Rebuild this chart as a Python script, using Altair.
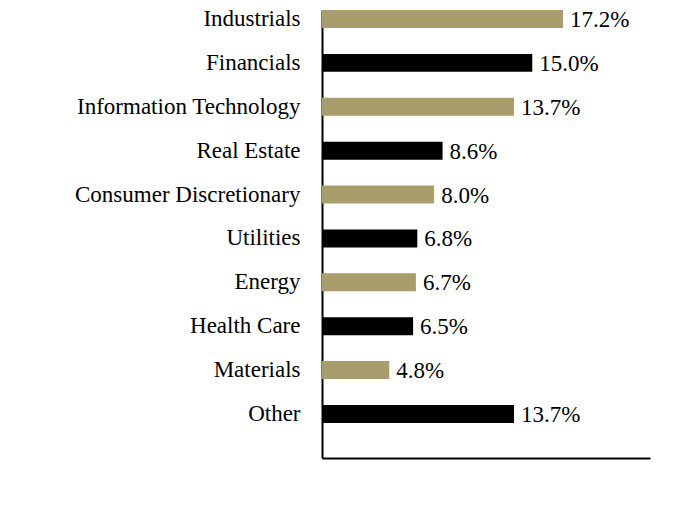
import altair as alt
import pandas as pd

sectors = [
    "Industrials", "Financials", "Information Technology", "Real Estate",
    "Consumer Discretionary", "Utilities", "Energy", "Health Care",
    "Materials", "Other",
]
weights = [17.2, 15.0, 13.7, 8.6, 8.0, 6.8, 6.7, 6.5, 4.8, 13.7]
shades = ["tan", "black", "tan", "black", "tan", "black", "tan", "black", "tan", "black"]

df = pd.DataFrame({"sector": sectors, "weight": weights, "shade": shades})
df["label"] = df["weight"].map(lambda v: f"{v:.1f}%")

FONT = "Liberation Serif"
SIZE = 23

y_enc = alt.Y(
    "sector:N",
    sort=sectors,
    scale=alt.Scale(paddingInner=0.59, paddingOuter=0.4, align=0),
    axis=alt.Axis(
        title=None, ticks=False, domain=True, domainColor="black", domainWidth=2,
        labelFont=FONT, labelFontSize=SIZE, labelColor="black", labelPadding=22,
        labelLimit=0,
    ),
)
x_enc = alt.X(
    "weight:Q",
    scale=alt.Scale(domain=[0, 23.4], nice=False, zero=True),
    axis=alt.Axis(
        title=None, ticks=False, labels=False, grid=False,
        domain=True, domainColor="black", domainWidth=2,
    ),
)

bars = alt.Chart(df).mark_bar().encode(
    y=y_enc,
    x=x_enc,
    color=alt.Color(
        "shade:N",
        scale=alt.Scale(domain=["tan", "black"], range=["#A89D6B", "#000000"]),
        legend=None,
    ),
)

labels = alt.Chart(df).mark_text(
    align="left", baseline="middle", dx=7, dy=1, font=FONT, fontSize=SIZE, color="black"
).encode(
    y=alt.Y("sector:N", sort=sectors),
    x="weight:Q",
    text="label:N",
)

chart = (
    alt.layer(bars, labels)
    .properties(
        width=328,
        height=448,
        autosize=alt.AutoSizeParams(type="none"),
        padding={"left": 322, "top": 10, "right": 34, "bottom": 70},
    )
    .configure_view(stroke=None)
)

chart.save("out.html", embed_options={"renderer": "svg", "actions": False})
